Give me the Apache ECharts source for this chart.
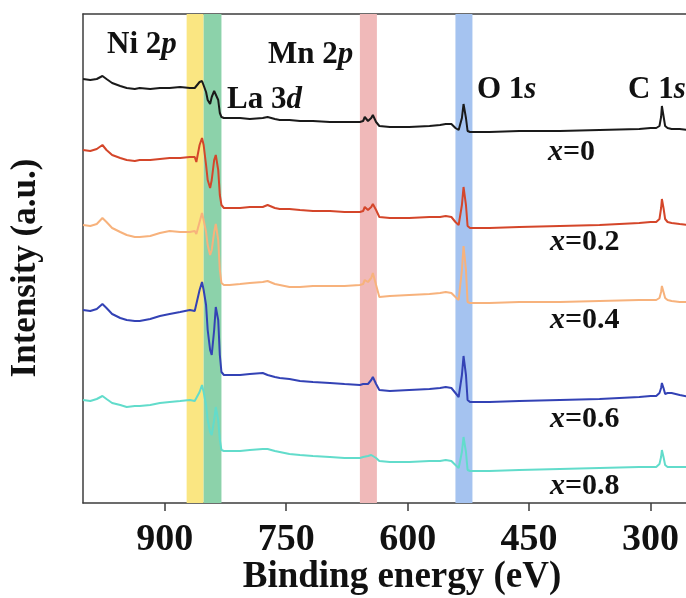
<!DOCTYPE html>
<html>
<head>
<meta charset="utf-8">
<script src="https://cdn.jsdelivr.net/npm/echarts@6/dist/echarts.min.js"></script>
<style>
  html, body { margin: 0; padding: 0; background: #fff; }
  #chart { width: 686px; height: 598px; }
</style>
</head>
<body>
<div id="chart"></div>
<script>
// ==========================================================================
// XPS survey spectra, La(Ni,Mn)O3 series, x = 0 ... 0.8
// ==========================================================================

// binding energy grid (eV), dense around the core-level peaks
var energies = [
    1001, 992, 984, 977, 972, 965, 955, 947, 937, 931,
    918, 906, 894, 881, 869, 863, 861, 857, 854, 852,
    849, 847, 844, 842, 839, 837, 834, 832, 830, 827,
    820, 807, 795, 779, 773, 764, 758, 746, 733, 717,
    696, 678, 659, 655, 653, 649, 645, 643, 639, 635,
    622, 598, 573, 560, 553, 546, 541, 537, 533, 531,
    528, 526, 523, 517, 499, 462, 412, 363, 314, 300,
    293, 289, 287, 286, 284, 282, 279, 274, 264, 252,
    227, 213
];

// stacked intensities (a.u., offset per sample)
var intensityX0 = [
    424, 423, 424, 427, 424, 420, 417, 415, 414, 415,
    414, 415, 415, 416, 415, 415, 414, 421, 422, 421,
    411, 403, 399, 406, 412, 412, 403, 390, 386, 385,
    385, 385, 384, 385, 386, 384, 383, 383, 382, 382,
    381, 381, 381, 382, 386, 382, 385, 388, 381, 377,
    376, 376, 377, 378, 379, 379, 375, 373, 385, 399,
    385, 372, 371, 371, 371, 372, 372, 373, 374, 375,
    375, 377, 386, 397, 387, 377, 375, 374, 374, 373,
    373, 373
];
var intensityX02 = [
    353, 352, 354, 358, 353, 348, 345, 343, 342, 343,
    343, 344, 345, 345, 346, 346, 341, 358, 365, 358,
    338, 323, 315, 323, 343, 348, 333, 308, 298, 295,
    295, 295, 296, 296, 298, 295, 294, 294, 293, 292,
    292, 291, 291, 292, 296, 293, 296, 299, 293, 286,
    285, 285, 286, 286, 287, 286, 281, 278, 298, 316,
    298, 277, 275, 275, 275, 276, 277, 278, 280, 281,
    281, 284, 295, 304, 295, 284, 281, 280, 279, 278,
    278, 278
];
var intensityX04 = [
    278, 277, 279, 285, 281, 275, 271, 268, 266, 266,
    267, 270, 272, 271, 271, 272, 269, 281, 290, 283,
    271, 258, 248, 253, 271, 279, 263, 233, 220, 218,
    218, 219, 220, 221, 222, 219, 218, 216, 216, 217,
    217, 217, 218, 219, 223, 221, 225, 230, 218, 206,
    207, 208, 209, 210, 211, 210, 206, 203, 233, 257,
    233, 201, 200, 200, 200, 201, 201, 202, 203, 203,
    203, 205, 211, 217, 211, 205, 203, 202, 201, 201,
    201, 201
];
var intensityX06 = [
    193, 192, 194, 199, 195, 189, 185, 183, 182, 182,
    184, 187, 189, 191, 193, 192, 190, 213, 221, 213,
    198, 173, 153, 148, 173, 196, 183, 148, 131, 128,
    128, 128, 129, 130, 128, 126, 125, 124, 122, 121,
    120, 119, 118, 119, 121, 119, 123, 126, 119, 113,
    112, 113, 114, 115, 116, 115, 110, 106, 128, 147,
    128, 103, 101, 101, 101, 102, 103, 104, 106, 107,
    107, 110, 115, 120, 115, 109, 110, 110, 108, 106,
    106, 106
];
var intensityX08 = [
    103, 102, 104, 107, 104, 100, 98, 96, 97, 97,
    98, 100, 101, 102, 103, 102, 100, 111, 118, 111,
    98, 83, 71, 68, 83, 96, 83, 63, 53, 52,
    52, 52, 53, 54, 54, 52, 51, 49, 48, 47,
    46, 45, 45, 46, 47, 47, 48, 49, 45, 42,
    41, 41, 42, 42, 43, 42, 38, 35, 51, 66,
    51, 33, 32, 32, 32, 33, 34, 35, 36, 36,
    36, 39, 46, 53, 46, 38, 36, 36, 36, 36,
    36, 36
];

var sampleNames = ['x=0', 'x=0.2', 'x=0.4', 'x=0.6', 'x=0.8'];
var sampleIntensities = [intensityX0, intensityX02, intensityX04, intensityX06, intensityX08];

// highlighted core-level windows (eV): Ni 2p, La 3d, Mn 2p, O 1s
var bandRanges = [[873, 852], [852, 830], [659, 638], [541, 520]];

var xTickValues = [900, 750, 600, 450, 300];

// ==========================================================================
// Chart
// ==========================================================================

var serifFont = '"Liberation Serif", "Times New Roman", serif';
var lineColors = ['#1a1a1a', '#d4462a', '#f7b27c', '#3342b5', '#62dccb'];
var bandColors = ['#fae682', '#8cd2aa', '#f0b9b9', '#a5c3f0'];

var chart = echarts.init(document.getElementById('chart'));

var lineSeries = sampleIntensities.map(function (values, idx) {
    return {
        name: sampleNames[idx],
        type: 'line',
        data: energies.map(function (e, i) { return [e, values[i]]; }),
        symbol: 'none',
        z: 3,
        lineStyle: { color: lineColors[idx], width: 2 }
    };
});

var bandSeries = {
    name: 'bands',
    type: 'line',
    data: [],
    z: 1,
    silent: true,
    markArea: {
        silent: true,
        data: bandRanges.map(function (r, idx) {
            return [
                { xAxis: r[0], itemStyle: { color: bandColors[idx], opacity: 1 } },
                { xAxis: r[1] }
            ];
        })
    }
};

// peak labels (rich text: plain + italic orbital letter)
var peakLabels = [
    { text: '{n|Ni 2}{i|p}', left: 107, top: 29 },
    { text: '{n|Mn 2}{i|p}', left: 268, top: 39 },
    { text: '{n|La 3}{i|d}', left: 227, top: 84 },
    { text: '{n|O 1}{i|s}', left: 477, top: 74 },
    { text: '{n|C 1}{i|s}', left: 628, top: 74 }
];
// sample labels under each trace
var sampleLabels = [
    { text: '{i|x}{n|=0}', left: 548, top: 137 },
    { text: '{i|x}{n|=0.2}', left: 550, top: 227 },
    { text: '{i|x}{n|=0.4}', left: 550, top: 305 },
    { text: '{i|x}{n|=0.6}', left: 550, top: 404 },
    { text: '{i|x}{n|=0.8}', left: 550, top: 471 }
];

function richStyle(size) {
    return {
        n: { fontWeight: 'bold', fontSize: size, fontFamily: serifFont, fill: '#111' },
        i: { fontWeight: 'bold', fontStyle: 'italic', fontSize: size, fontFamily: serifFont, fill: '#111' }
    };
}

var graphics = [];
peakLabels.forEach(function (p) {
    graphics.push({ type: 'text', left: p.left, top: p.top, z: 10, style: { text: p.text, rich: richStyle(31) } });
});
sampleLabels.forEach(function (p) {
    graphics.push({ type: 'text', left: p.left, top: p.top, z: 10, style: { text: p.text, rich: richStyle(30) } });
});

var frameLine = { show: true, lineStyle: { color: '#3c3c3c', width: 1.5 } };

chart.setOption({
    animation: false,
    backgroundColor: '#fff',
    grid: { left: 83, right: -35, top: 14, bottom: 95, containLabel: false, outerBoundsMode: 'none' },
    xAxis: [
        {
            type: 'value',
            inverse: true,
            min: 213,
            max: 1001,
            name: 'Binding energy (eV)',
            nameLocation: 'middle',
            nameGap: 56,
            nameMoveOverlap: false,
            nameTextStyle: { fontFamily: serifFont, fontWeight: 'bold', fontSize: 37, color: '#111' },
            axisLine: frameLine,
            axisTick: {
                show: true,
                inside: false,
                length: 8,
                customValues: xTickValues,
                lineStyle: { color: '#3c3c3c', width: 1.5 }
            },
            axisLabel: {
                customValues: xTickValues,
                margin: 18,
                fontFamily: serifFont,
                fontWeight: 'bold',
                fontSize: 38,
                color: '#111'
            },
            splitLine: { show: false }
        },
        {
            type: 'value',
            position: 'top',
            inverse: true,
            min: 213,
            max: 1001,
            axisLine: frameLine,
            axisTick: { show: false },
            axisLabel: { show: false },
            splitLine: { show: false }
        }
    ],
    yAxis: {
        type: 'value',
        min: 0,
        max: 489,
        name: 'Intensity (a.u.)',
        nameLocation: 'middle',
        nameGap: 40,
        nameMoveOverlap: false,
        nameTextStyle: {
            fontFamily: serifFont, fontWeight: 'bold', fontSize: 35, color: '#111',
            padding: [0, 19, 0, 0]
        },
        axisLine: frameLine,
        axisTick: { show: false },
        axisLabel: { show: false },
        splitLine: { show: false }
    },
    series: [bandSeries].concat(lineSeries),
    graphic: graphics
});
</script>
</body>
</html>
